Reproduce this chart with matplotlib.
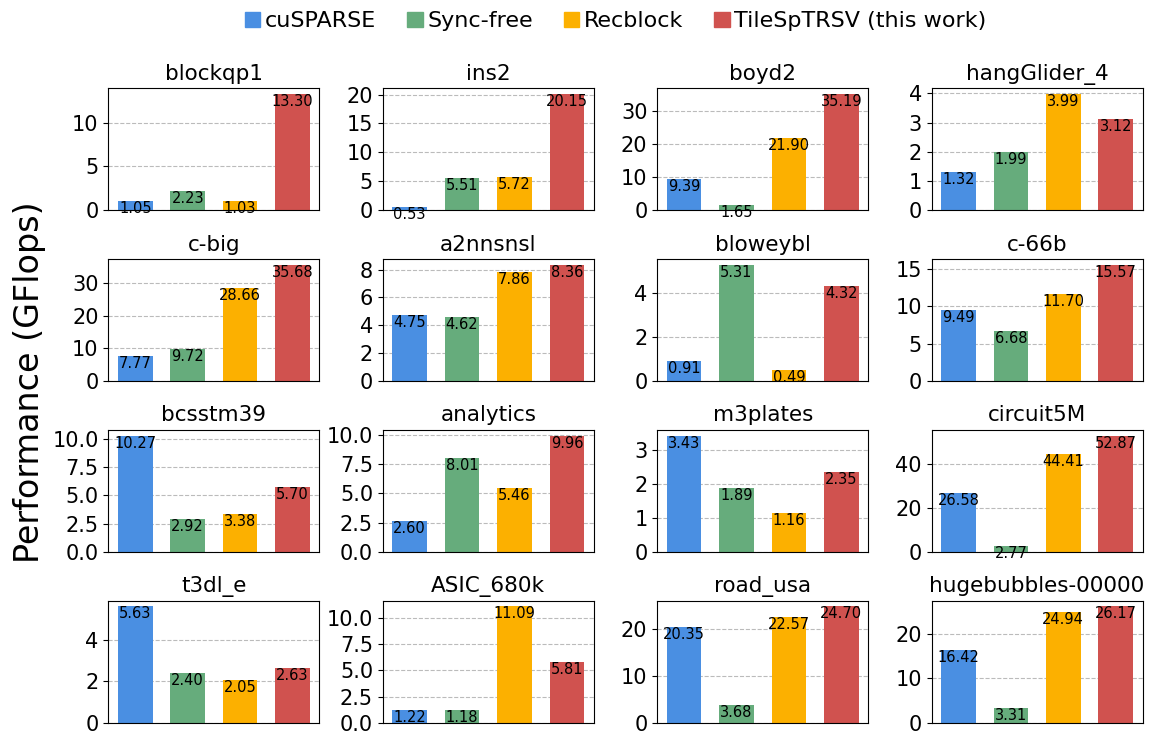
import numpy as np
import matplotlib.pyplot as plt
from matplotlib.patches import Patch
from matplotlib.ticker import MaxNLocator

#------------------------------------------------------------------------------------
# Data: performance (GFlops) per matrix
methods = ("cuSPARSE", "Sync-free", "Recblock", "TileSpTRSV (this work)")
colors = ("#4A8FE2", "#66AC7C", "#FCB000", "#D0524F")

matrices = ("blockqp1", "ins2", "boyd2", "hangGlider_4",
            "c-big", "a2nnsnsl", "bloweybl", "c-66b",
            "bcsstm39", "analytics", "m3plates", "circuit5M",
            "t3dl_e", "ASIC_680k", "road_usa", "hugebubbles-00000")

cusparse  = [1.05, 0.53, 9.39, 1.32, 7.77, 4.75, 0.91, 9.49,
             10.27, 2.60, 3.43, 26.58, 5.63, 1.22, 20.35, 16.42]
syncfree  = [2.23, 5.51, 1.65, 1.99, 9.72, 4.62, 5.31, 6.68,
             2.92, 8.01, 1.89, 2.77, 2.40, 1.18, 3.68, 3.31]
recblock  = [1.03, 5.72, 21.90, 3.99, 28.66, 7.86, 0.49, 11.70,
             3.38, 5.46, 1.16, 44.41, 2.05, 11.09, 22.57, 24.94]
tilesptrsv = [13.30, 20.15, 35.19, 3.12, 35.68, 8.36, 4.32, 15.57,
              5.70, 9.96, 2.35, 52.87, 2.63, 5.81, 24.70, 26.17]

perf = np.array([cusparse, syncfree, recblock, tilesptrsv]).T

#------------------------------------------------------------------------------------
# Plot
fig, axes = plt.subplots(4, 4, figsize=(11.53, 7.33), dpi=100)
plt.subplots_adjust(left=0.094, right=0.991, top=0.880, bottom=0.014,
                    wspace=0.30, hspace=0.40)

x = np.arange(len(methods))
for i, ax in enumerate(axes.flat):
    vals = perf[i]
    ax.bar(x, vals, width=0.66, color=colors, zorder=2)
    for xi, v in zip(x, vals):
        ax.text(xi, v, "%.2f" % v, ha='center', va='top', fontsize=10.5, zorder=4)
    ax.set_ylim(0, vals.max() * 1.05)
    ax.yaxis.set_major_locator(MaxNLocator(nbins=5, steps=[1, 2, 2.5, 5, 10]))
    ax.set_xticks([])
    ax.set_title(matrices[i], fontsize=15.5)
    ax.tick_params(axis='y', labelsize=15)
    ax.grid(True, axis='y', linestyle='--', color='#bbbbbb', zorder=0)

fig.text(0.026, 0.479, "Performance (GFlops)", rotation=90, va='center', ha='center', fontsize=24)

handles = [Patch(color=c, label=m) for c, m in zip(colors, methods)]
fig.legend(handles=handles, loc='upper center', ncol=4, frameon=False, fontsize=16,
           bbox_to_anchor=(0.534, 1.012), handlelength=0.7, handleheight=0.7,
           handletextpad=0.2, columnspacing=1.4)

plt.savefig("out.png", format='png')
